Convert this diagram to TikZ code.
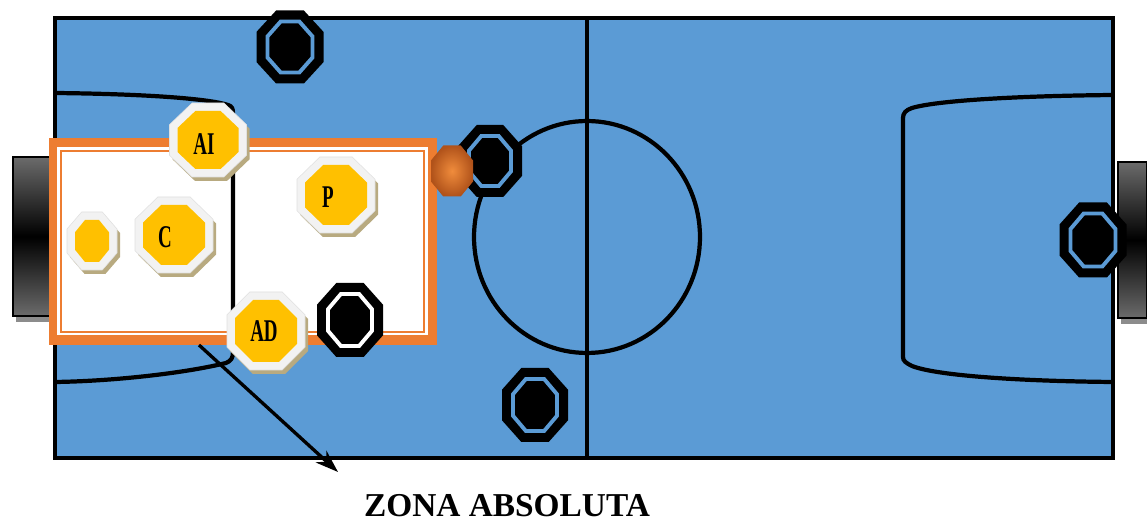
\documentclass[tikz,border=0pt]{standalone}
\usepackage{fontspec}
\setmainfont{Liberation Serif}
\usetikzlibrary{arrows.meta,calc}
\definecolor{field}{HTML}{5B9BD5}
\definecolor{zorange}{HTML}{ED7D31}
\definecolor{tokyellow}{HTML}{FFC000}
\definecolor{tokwhite}{HTML}{F2F2F2}
\definecolor{tokshadow}{HTML}{B8AA80}
\definecolor{goalgray}{HTML}{6B6B6B}
\definecolor{goalshadow}{HTML}{8C8C8C}
\definecolor{ballin}{HTML}{F08C3C}
\definecolor{ballout}{HTML}{B0521A}
% octagon: x, y, half width, half height, style
\newcommand\octo[5]{\path[#5] ({(#1)+(#3)},{(#2)+0.4142*(#4)}) -- ({(#1)+0.4142*(#3)},{(#2)+(#4)}) -- ({(#1)-0.4142*(#3)},{(#2)+(#4)}) -- ({(#1)-(#3)},{(#2)+0.4142*(#4)}) -- ({(#1)-(#3)},{(#2)-0.4142*(#4)}) -- ({(#1)-0.4142*(#3)},{(#2)-(#4)}) -- ({(#1)+0.4142*(#3)},{(#2)-(#4)}) -- ({(#1)+(#3)},{(#2)-0.4142*(#4)}) -- cycle;}
% yellow player token
\newcommand\ytok[4]{%
  \octo{#1+3}{#2+4}{#3}{#4}{fill=tokshadow}
  \octo{#1}{#2}{#3}{#4}{fill=tokwhite, draw=black!12, line width=0.3pt}
  \octo{#1}{#2}{#3-8}{#4-8}{fill=tokyellow}}
% black opponent token
\newcommand\btok[5]{%
  \octo{#1}{#2}{#3}{#4}{fill=black}
  \octo{#1}{#2}{#3-11}{#4-11}{fill=black, draw=#5, line width=2.2pt}}
\tikzset{
  fieldline/.style={line width=2.8pt, draw=black},
  pline/.style={line width=2.4pt, draw=black},
  toklabel/.style={font=\bfseries\fontsize{18}{18}\selectfont, inner sep=0pt, text=black},
  zonalabel/.style={font=\bfseries\fontsize{19}{19}\selectfont, inner sep=0pt, text=black},
  arrowline/.style={line width=1.9pt, draw=black, -{Stealth[length=13pt, width=9pt]}},
  ball/.style={inner color=ballin, outer color=ballout}
}
\begin{document}
\begin{tikzpicture}[x=0.02cm, y=-0.02cm]
\useasboundingbox (0,0) rectangle (1147,523);
% goals
\fill[goalshadow] (16,163) rectangle (56,322);
\shade[top color=goalgray, bottom color=goalgray, middle color=black] (13,157) rectangle (53,316);
\draw[line width=1.2pt] (13,157) rectangle (53,316);
\fill[goalshadow] (1121,168) rectangle (1150,324);
\shade[top color=goalgray, bottom color=goalgray, middle color=black] (1118,162) rectangle (1150,318);
\draw[line width=1.2pt] (1118,162) -- (1147.5,162) -- (1147.5,318) -- (1118,318) -- cycle;
% field
\draw[fieldline, fill=field] (55,18) rectangle (1113,458);
\draw[pline] (587,18) -- (587,458);
\draw[pline] (587,237) ellipse [x radius=2.26cm, y radius=2.32cm];
% right penalty area
\draw[pline] (1113,95) .. controls (1010,96) and (935,101) .. (912,108) .. controls (906,110) and (903,113) .. (903,118) -- (903,357) .. controls (903,361) and (906,363) .. (912,366) .. controls (935,375) and (1010,381) .. (1113,382);
% zona absoluta box
\fill[zorange] (49,138) rectangle (437,345);
\fill[white] (57,147) rectangle (428,335);
\draw[zorange, line width=1.3pt] (61,151) rectangle (424,332);
% left penalty area
\draw[pline] (55,93) .. controls (150,94) and (210,99) .. (228,105) .. controls (232,106) and (233,109) .. (233,113) -- (233,352) .. controls (233,358) and (231,361) .. (226,363) .. controls (190,372) and (120,381) .. (55,382);
% arrow to label
\coordinate (astart) at (199,345);
\coordinate (aend) at (338,472);
\draw[arrowline] (astart) -- (aend);
\node[zonalabel] (zona) at (507,506) {ZONA ABSOLUTA};
% opponents
\btok{290}{47}{33.5}{36.5}{field}
\btok{490}{161}{32}{36}{field}
\btok{535}{405}{33}{37}{field}
\btok{350}{320}{33}{37}{white}
% ball
\octo{452}{171}{21}{25.5}{ball}
% players
\ytok{208}{140}{38.5}{37}
\ytok{336}{195}{39}{38}
\ytok{174}{235}{39}{38}
\ytok{92}{241}{25}{29}
\ytok{266}{331}{39}{39}
\node[toklabel] (ai) at (204,144) {\scalebox{0.6}[1]{AI}};
\node[toklabel] (p) at (328,197) {\scalebox{0.6}[1]{P}};
\node[toklabel] (c) at (165,237) {\scalebox{0.6}[1]{C}};
\node[toklabel] (ad) at (264,331) {\scalebox{0.6}[1]{AD}};
% right opponent over goal
\btok{1093}{240}{33.5}{37.5}{field}
\end{tikzpicture}
\end{document}
